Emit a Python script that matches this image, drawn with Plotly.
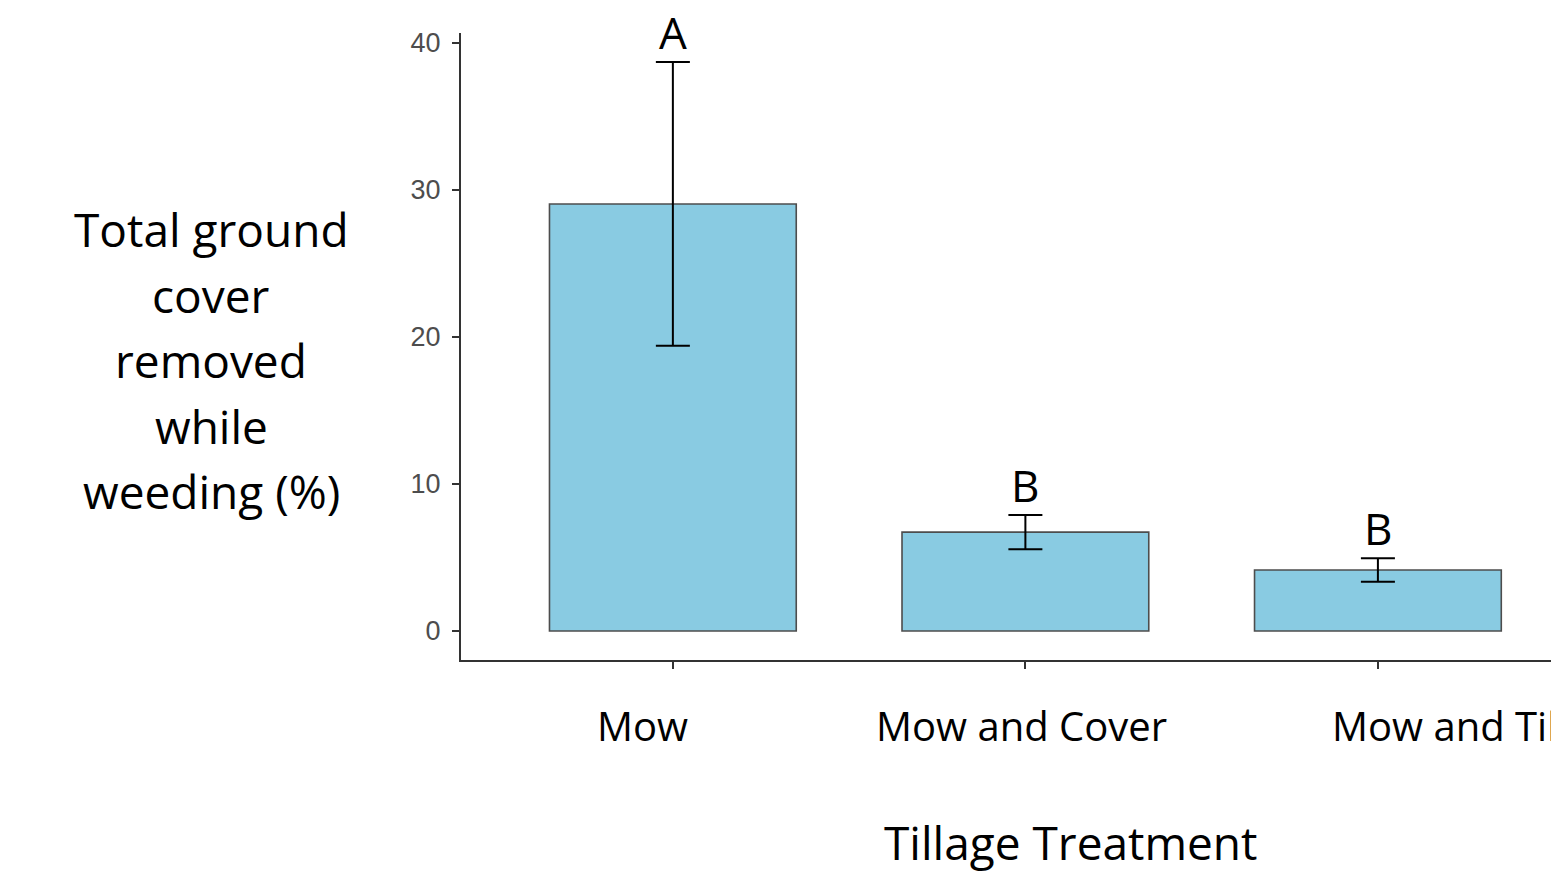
import plotly.graph_objects as go

categories = ["Mow", "Mow and Cover", "Mow and Till"]
means = [29.05, 6.73, 4.15]
errors = [9.65, 1.17, 0.80]
letters = ["A", "B", "B"]
y_ticks = [0, 10, 20, 30, 40]
y_title_lines = ["Total ground", "cover", "removed", "while", "weeding (%)"]
x_title = "Tillage Treatment"

W, H = 1551, 876
ML, MR, MT, MB = 461, 0, 33, 216
plot_h = H - MT - MB
plot_w = W - ML - MR
base_px = H - MB  # page pixel of the x axis line

TXT_FONT = "Open Sans"


def py_to_paper(py):
    return (base_px - py) / plot_h


def px_to_paper(px):
    return (px - ML) / plot_w


fig = go.Figure()
fig.add_trace(go.Bar(
    x=categories, y=means, width=0.7,
    marker=dict(color="#89CBE2", line=dict(color="#4d4d4d", width=1.6)),
    error_y=dict(type="data", array=errors, visible=True,
                 color="black", thickness=2, width=17),
    showlegend=False, hoverinfo="x+y",
))

annotations = []
# significance letters above error bars
for c, m, e, l in zip(categories, means, errors, letters):
    annotations.append(dict(x=c, y=m + e, xref="x", yref="y", text=l,
                            showarrow=False, yanchor="bottom", yshift=-2,
                            font=dict(family=TXT_FONT, size=44, color="black")))

# category labels (offset as in the reference)
label_left_px = [595, 874, 1330]
tick_px = [673, 1025, 1378]
for c, lp, tp in zip(categories, label_left_px, tick_px):
    annotations.append(dict(x=c, xref="x", y=py_to_paper(725), yref="paper",
                            text=c, showarrow=False, xanchor="left", yanchor="middle",
                            xshift=lp - tp,
                            font=dict(family=TXT_FONT, size=40, color="black")))

# y title lines
line_centers = [229, 295, 360, 426, 491]
for t, py in zip(y_title_lines, line_centers):
    annotations.append(dict(x=px_to_paper(211), xref="paper",
                            y=py_to_paper(py), yref="paper",
                            text=t, showarrow=False, xanchor="center", yanchor="middle",
                            font=dict(family=TXT_FONT, size=46, color="black")))

# x title
annotations.append(dict(x=px_to_paper(1070), xref="paper",
                        y=py_to_paper(842), yref="paper",
                        text=x_title, showarrow=False, xanchor="center", yanchor="middle",
                        font=dict(family=TXT_FONT, size=46, color="black")))

fig.update_layout(
    width=W, height=H,
    margin=dict(l=ML, r=MR, t=MT, b=MB, pad=0),
    paper_bgcolor="white", plot_bgcolor="white",
    annotations=annotations,
    xaxis=dict(range=[-0.601, 2.491], showgrid=False, zeroline=False,
               showline=True, linecolor="#333333", linewidth=2,
               ticks="outside", ticklen=7, tickwidth=2, tickcolor="#333333",
               showticklabels=False),
    yaxis=dict(range=[-1.97, 40.68], showgrid=False, zeroline=False,
               showline=True, linecolor="#333333", linewidth=2,
               tickvals=y_ticks, ticks="outside", ticklen=7, tickwidth=2,
               tickcolor="#333333", ticklabelstandoff=6,
               tickfont=dict(family="Liberation Sans", size=27, color="#4d4d4d")),
)

fig.write_html(
    "out.html",
    config={"displayModeBar": False},
    post_script="document.body.style.margin='0';document.body.style.overflow='hidden';",
)
